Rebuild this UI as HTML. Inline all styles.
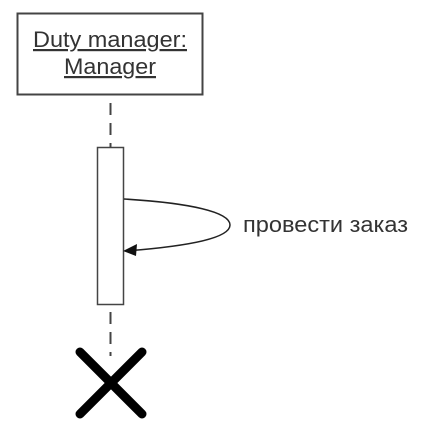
<!DOCTYPE html>
<html><head><style>
html,body{margin:0;padding:0;background:#fff;width:448px;height:440px;overflow:hidden}
</style></head><body>
<svg width="448" height="440" xmlns="http://www.w3.org/2000/svg">
<rect x="17.5" y="13.5" width="185" height="81" fill="#fff" stroke="#444" stroke-width="2"/>
<text x="110" y="47" font-family="Liberation Sans, sans-serif" font-size="22" text-anchor="middle" fill="#333" text-decoration="underline" textLength="154" lengthAdjust="spacingAndGlyphs">Duty manager:</text>
<text x="110" y="74" font-family="Liberation Sans, sans-serif" font-size="22" text-anchor="middle" fill="#333" text-decoration="underline" textLength="92" lengthAdjust="spacingAndGlyphs">Manager</text>
<line x1="110.5" y1="103" x2="110.5" y2="147" stroke="#444" stroke-width="2" stroke-dasharray="12,8"/>
<rect x="97.5" y="147.5" width="26" height="157" fill="#fff" stroke="#444" stroke-width="1.5"/>
<line x1="110.5" y1="312" x2="110.5" y2="356" stroke="#444" stroke-width="2" stroke-dasharray="12,8"/>
<path d="M124 199 C 190 203, 230 212, 230 225 C 230 238, 190 246, 126 251" fill="none" stroke="#222" stroke-width="1.5"/>
<polygon points="123,251 137,244 136,256" fill="#111"/>
<text x="243" y="232" font-family="Liberation Sans, sans-serif" font-size="22" fill="#333" textLength="165" lengthAdjust="spacingAndGlyphs">провести заказ</text>
<line x1="80" y1="352" x2="142" y2="414" stroke="#000" stroke-width="9" stroke-linecap="round"/>
<line x1="142" y1="352" x2="80" y2="414" stroke="#000" stroke-width="9" stroke-linecap="round"/>
</svg>
</body></html>
